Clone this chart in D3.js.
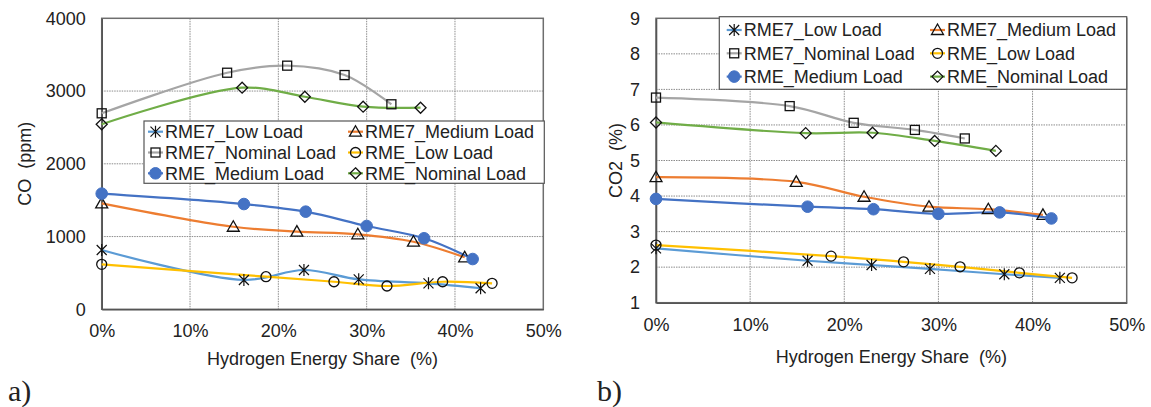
<!DOCTYPE html>
<html><head><meta charset="utf-8">
<script src="https://cdn.jsdelivr.net/npm/d3@7/dist/d3.min.js"></script>
<style>
html,body{margin:0;padding:0;background:#fff;}
svg{display:block;}
text{font-family:"Liberation Sans",Arial,sans-serif;fill:#222;}
</style></head>
<body>
<svg id="c" width="1151" height="407"></svg>
<script>
// ---- Data ----
const seriesNames = ["RME7_Low Load","RME7_Medium Load","RME7_Nominal Load","RME_Low Load","RME_Medium Load","RME_Nominal Load"];
const seriesColors = ["#5B9BD5","#ED7D31","#A5A5A5","#FFC000","#4472C4","#70AD47"];
const seriesMarkers = ["asterisk","triangle","square","circle","dot","diamond"];

// hydrogen energy share (%)
const xRME7Low = [0, 16.1, 22.9, 29.1, 37.0, 42.9];
const xRME7Med = [0, 14.9, 22.1, 29.0, 35.3, 41.1];
const xRME7Nom = [0, 14.2, 21.0, 27.5, 32.8];
const xRMELow  = [0, 18.6, 26.3, 32.3, 38.6, 44.2];
const xRMEMed  = [0, 16.1, 23.1, 30.0, 36.5, 42.0];
const xRMENom  = [0, 15.9, 23.0, 29.6, 36.1];

// CO (ppm)
const coRME7Low = [815, 403, 540, 412, 357, 289];
const coRME7Med = [1457, 1135, 1067, 1031, 929, 715];
const coRME7Nom = [2694, 3252, 3349, 3220, 2818];
const coRMELow  = [618, 448, 379, 320, 379, 357];
const coRMEMed  = [1590, 1447, 1342, 1145, 976, 691];
const coRMENom  = [2543, 3046, 2922, 2785, 2771];

// CO2 (%)
const co2RME7Low = [2.53, 2.18, 2.06, 1.95, 1.80, 1.70];
const co2RME7Med = [4.53, 4.40, 3.98, 3.70, 3.63, 3.47];
const co2RME7Nom = [6.77, 6.53, 6.06, 5.86, 5.62];
const co2RMELow  = [2.62, 2.31, 2.15, 2.01, 1.84, 1.70];
const co2RMEMed  = [3.92, 3.70, 3.63, 3.50, 3.54, 3.37];
const co2RMENom  = [6.07, 5.77, 5.78, 5.55, 5.27];

const xTicks = [0, 10, 20, 30, 40, 50];
const coTicks = [0, 1000, 2000, 3000, 4000];
const co2Ticks = [1, 2, 3, 4, 5, 6, 7, 8, 9];

const xSets = [xRME7Low, xRME7Med, xRME7Nom, xRMELow, xRMEMed, xRMENom];
const coSets = [coRME7Low, coRME7Med, coRME7Nom, coRMELow, coRMEMed, coRMENom];
const co2Sets = [co2RME7Low, co2RME7Med, co2RME7Nom, co2RMELow, co2RMEMed, co2RMENom];

// drawing order (back to front)
const drawOrder = [2, 5, 1, 4, 0, 3];

const svg = d3.select("#c");

function marker(g, type, x, y, color) {
  const s = 5;
  if (type === "asterisk") {
    const p = d3.path();
    p.moveTo(x - s, y - s); p.lineTo(x + s, y + s);
    p.moveTo(x - s, y + s); p.lineTo(x + s, y - s);
    p.moveTo(x, y - s - 1); p.lineTo(x, y + s + 1);
    g.append("path").attr("d", p.toString()).attr("stroke", "#111").attr("stroke-width", 1.2).attr("fill", "none");
  } else if (type === "triangle") {
    g.append("path").attr("d", `M${x},${y - 6}L${x + 6},${y + 4.5}L${x - 6},${y + 4.5}Z`)
      .attr("stroke", "#111").attr("stroke-width", 1.3).attr("fill", "none");
  } else if (type === "square") {
    g.append("rect").attr("x", x - 4.5).attr("y", y - 4.5).attr("width", 9).attr("height", 9)
      .attr("stroke", "#111").attr("stroke-width", 1.3).attr("fill", "none");
  } else if (type === "circle") {
    g.append("circle").attr("cx", x).attr("cy", y).attr("r", 5)
      .attr("stroke", "#111").attr("stroke-width", 1.3).attr("fill", "none");
  } else if (type === "dot") {
    g.append("circle").attr("cx", x).attr("cy", y).attr("r", 5.8).attr("fill", color).attr("stroke", color);
  } else if (type === "diamond") {
    g.append("path").attr("d", `M${x},${y - 5.5}L${x + 5.5},${y}L${x},${y + 5.5}L${x - 5.5},${y}Z`)
      .attr("stroke", "#111").attr("stroke-width", 1.3).attr("fill", "none");
  }
}

function chart(cfg) {
  const g = svg.append("g");
  const x = d3.scaleLinear().domain([0, 50]).range([cfg.x0, cfg.x1]);
  const y = d3.scaleLinear().domain(cfg.yDomain).range([cfg.y1, cfg.y0]);

  // grid
  const grid = g.append("g");
  grid.selectAll("line.h").data(cfg.yTicks.slice(1, -1)).join("line")
    .attr("x1", cfg.x0).attr("x2", cfg.x1).attr("y1", d => y(d)).attr("y2", d => y(d))
    .attr("stroke", "#8c8c8c").attr("stroke-width", 1).attr("stroke-dasharray", "1.5,1");
  grid.selectAll("line.v").data(xTicks.slice(1, -1)).join("line")
    .attr("y1", cfg.y0).attr("y2", cfg.y1).attr("x1", d => x(d)).attr("x2", d => x(d))
    .attr("stroke", "#8c8c8c").attr("stroke-width", 1).attr("stroke-dasharray", "1.5,1");
  g.append("rect").attr("x", cfg.x0).attr("y", cfg.y0).attr("width", cfg.x1 - cfg.x0).attr("height", cfg.y1 - cfg.y0)
    .attr("fill", "none").attr("stroke", "#6e6e6e").attr("stroke-width", 1.5);

  // axes
  const ya = d3.axisLeft(y).tickValues(cfg.yTicks).tickSize(0).tickPadding(cfg.yPad).tickFormat(d3.format("d"));
  const yg = g.append("g").attr("transform", `translate(${cfg.x0},0)`).call(ya);
  yg.select(".domain").attr("stroke", "#555").attr("stroke-width", 1.6);
  yg.selectAll("text").style("font-size", "18px").attr("fill", "#222");
  const xa = d3.axisBottom(x).tickValues(xTicks).tickSize(0).tickPadding(cfg.xPad).tickFormat(d => d + "%");
  const xg = g.append("g").attr("transform", `translate(0,${cfg.y1})`).call(xa);
  xg.select(".domain").attr("stroke", "#555").attr("stroke-width", 1.6);
  xg.selectAll("text").style("font-size", "18px").attr("fill", "#222");

  // lines
  const line = d3.line().x(d => x(d[0])).y(d => y(d[1])).curve(d3.curveCatmullRom.alpha(0.5));
  drawOrder.forEach(i => {
    const pts = xSets[i].map((v, k) => [v, cfg.sets[i][k]]);
    g.append("path").attr("d", line(pts)).attr("fill", "none").attr("stroke", seriesColors[i]).attr("stroke-width", 2.2);
  });
  drawOrder.forEach(i => {
    const mg = g.append("g");
    xSets[i].forEach((v, k) => marker(mg, seriesMarkers[i], x(v), y(cfg.sets[i][k]), seriesColors[i]));
  });

  // titles
  g.append("text").attr("x", (cfg.x0 + cfg.x1) / 2).attr("y", cfg.xTitleY).attr("text-anchor", "middle")
    .style("font-size", "18px").style("white-space", "pre").text("Hydrogen Energy Share  (%)");
  g.append("text").attr("transform", `translate(${cfg.yTitleX},${(cfg.y0 + cfg.y1) / 2}) rotate(-90)`)
    .attr("text-anchor", "middle").attr("dy", "0.36em")
    .style("font-size", "18px").style("white-space", "pre").text(cfg.yTitle);

  // legend
  const L = cfg.legend;
  const lg = g.append("g");
  lg.append("rect").attr("x", L.x).attr("y", L.y).attr("width", L.w).attr("height", L.h)
    .attr("fill", "#fff").attr("stroke", "#555").attr("stroke-width", 1.2);
  seriesNames.forEach((name, i) => {
    const col = i % 2, row = Math.floor(i / 2);
    const cy = L.y + L.rowTop + row * L.rowH;
    const lx = L.x + L.colX[col];
    lg.append("line").attr("x1", lx).attr("x2", lx + 15).attr("y1", cy).attr("y2", cy)
      .attr("stroke", seriesColors[i]).attr("stroke-width", 2.2);
    marker(lg, seriesMarkers[i], lx + 7.5, cy, seriesColors[i]);
    lg.append("text").attr("x", lx + 17).attr("y", cy).attr("dy", "0.36em")
      .style("font-size", "18px").text(name);
  });

  // panel label
  g.append("text").attr("x", cfg.labelX).attr("y", 401).style("font-family", '"Liberation Serif","Times New Roman",serif')
    .style("font-size", "30px").attr("fill", "#111").text(cfg.label);
}

chart({
  x0: 101.7, x1: 543.3, y0: 18.3, y1: 309.3,
  yDomain: [0, 4000], yTicks: coTicks, sets: coSets,
  yPad: 16, xPad: 15, xTitleY: 364.5, yTitleX: 25, yTitle: "CO  (ppm)",
  legend: { x: 144, y: 121, w: 400.3, h: 62.3, rowTop: 10.7, rowH: 20.8, colX: [4, 204] },
  label: "a)", labelX: 8
});
chart({
  x0: 656, x1: 1126.7, y0: 18.3, y1: 302.7,
  yDomain: [1, 9], yTicks: co2Ticks, sets: co2Sets,
  yPad: 16, xPad: 16, xTitleY: 363, yTitleX: 616, yTitle: "CO2  (%)",
  legend: { x: 719.3, y: 16.7, w: 407.4, h: 72.6, rowTop: 13.3, rowH: 23.3, colX: [7.4, 210.7] },
  label: "b)", labelX: 597
});
</script>
</body></html>
